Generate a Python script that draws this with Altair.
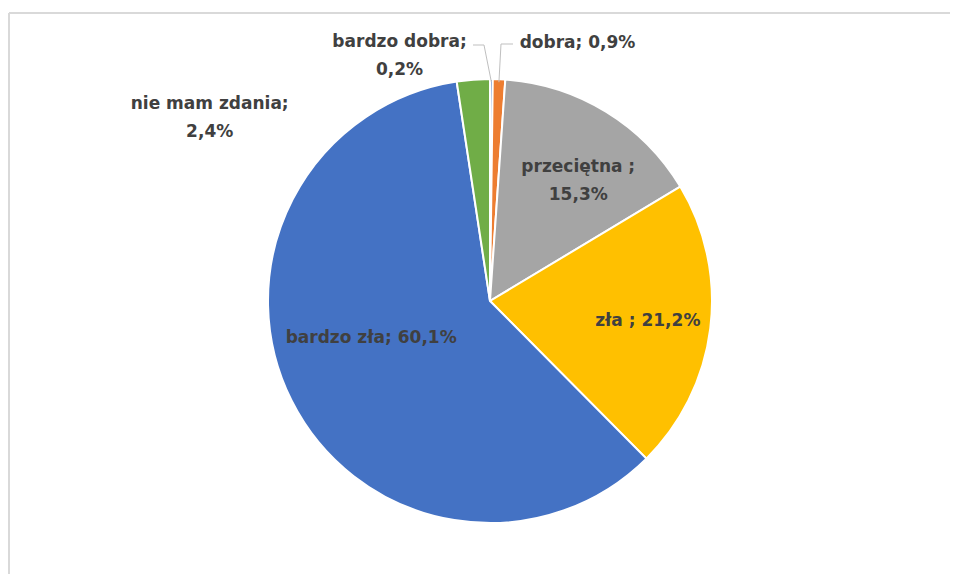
import math
import altair as alt
import pandas as pd

# ---- data ----
categories = ["bardzo dobra", "dobra", "przeciętna", "zła", "bardzo zła", "nie mam zdania"]
labels = ["bardzo dobra;\n0,2%", "dobra; 0,9%", "przeciętna ;\n15,3%", "zła ; 21,2%",
          "bardzo zła; 60,1%", "nie mam zdania;\n2,4%"]
values = [0.2, 0.9, 15.3, 21.2, 60.1, 2.4]
colors = ["#4472C4", "#ED7D31", "#A5A5A5", "#FFC000", "#4472C4", "#70AD47"]

# ---- layout ----
W, H = 920, 546
PAD_L, PAD_T, PAD_R, PAD_B = 22, 20, 0, 0
R = 222
LINE_H = 28
CX, CY = W / 2, H / 2
label_r = [245, 258, 148, 159, 133, 230]
label_dx = [-92, 77, 11, 0, 0, -263]
label_dy = [0, 0, 6, 0, -23, 46]
leader_cats = ["bardzo dobra", "dobra"]
leader_elbow = [(-6, -256), (11, -257)]
leader_end = [(-17, -256), (23, -257)]

df = pd.DataFrame({"category": categories, "value": values, "idx": list(range(len(values)))})

total = sum(values)
mids = []
cum = 0.0
for v in values:
    mids.append((cum + v / 2) / total * 2 * math.pi)
    cum += v

# first line sits at the anchor; shift multi-line blocks up so they are centred
line_shift = [-(lab.count("\n")) * LINE_H / 2 for lab in labels]

lab_df = pd.DataFrame({
    "label": labels,
    "lx": [CX + r * math.sin(a) + dx for r, a, dx in zip(label_r, mids, label_dx)],
    "ly": [CY - r * math.cos(a) + dy + s for r, a, dy, s in zip(label_r, mids, label_dy, line_shift)],
})

rows = []
for cat, el, en in zip(leader_cats, leader_elbow, leader_end):
    a = mids[categories.index(cat)]
    rows.append({"cat": cat, "step": 0, "x": CX + (R - 3) * math.sin(a), "y": CY - (R - 3) * math.cos(a)})
    rows.append({"cat": cat, "step": 1, "x": CX + el[0], "y": CY + el[1]})
    rows.append({"cat": cat, "step": 2, "x": CX + en[0], "y": CY + en[1]})
lead_df = pd.DataFrame(rows)

frame_df = pd.DataFrame({
    "x": [-21, -21], "y": [-15, -15], "x2": [-21, W + PAD_R], "y2": [H + PAD_B, -15]
})

arcs = alt.Chart(df).mark_arc(outerRadius=R, stroke="white", strokeWidth=2).encode(
    theta=alt.Theta("value:Q", stack=True),
    color=alt.Color("category:N", scale=alt.Scale(domain=categories, range=colors), legend=None),
    order=alt.Order("idx:Q"),
)

text = alt.Chart(lab_df).mark_text(
    font="DejaVu Sans", fontSize=17, fontWeight="bold", color="#404040",
    lineBreak="\n", lineHeight=LINE_H, align="center", baseline="middle"
).encode(
    x=alt.X("lx:Q", scale=None), y=alt.Y("ly:Q", scale=None), text="label:N"
)

leaders = alt.Chart(lead_df).mark_line(color="#BFBFBF", strokeWidth=1).encode(
    x=alt.X("x:Q", scale=None), y=alt.Y("y:Q", scale=None),
    detail="cat:N", order="step:Q"
)

frame = alt.Chart(frame_df).mark_rule(color="#D9D9D9", strokeWidth=2).encode(
    x=alt.X("x:Q", scale=None), y=alt.Y("y:Q", scale=None),
    x2="x2:Q", y2="y2:Q"
)

chart = alt.layer(frame, arcs, leaders, text).properties(
    width=W, height=H,
    padding={"left": PAD_L, "top": PAD_T, "right": PAD_R, "bottom": PAD_B},
    autosize=alt.AutoSizeParams(type="none"),
    background="white",
).configure_view(strokeWidth=0)

chart.save("out.html", embed_options={"renderer": "svg", "actions": False})
